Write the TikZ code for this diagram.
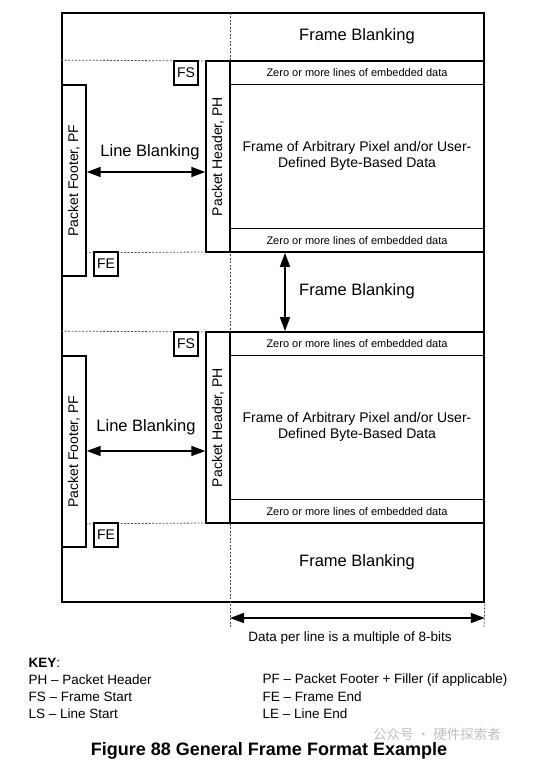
\documentclass[tikz,border=0pt]{standalone}
\usepackage{fontspec}
\setmainfont{Liberation Sans}
\newfontfamily\cjkfont{Noto Sans CJK SC}
\usetikzlibrary{arrows.meta}

\begin{document}
\begin{tikzpicture}[x=1pt, y=-1pt,
  box/.style={draw, fill=white, line width=1.4pt, inner sep=0pt, minimum width=24, minimum height=191},
  tag/.style={draw, fill=white, line width=1.4pt, inner sep=0pt, minimum size=24, font=\fontsize{14}{16}\selectfont},
  datablk/.style={draw, line width=1.8pt, inner sep=0pt, minimum width=254, minimum height=191},
  embrow/.style={inner sep=0pt, minimum width=254, minimum height=24, font=\fontsize{11}{13}\selectfont},
  blank/.style={font=\fontsize{16.5}{19}\selectfont},
  sidetxt/.style={rotate=90, font=\fontsize{14}{16}\selectfont},
  guide/.style={gray!60!black, dash pattern=on 2pt off 1.5pt, line width=0.8pt},
  dbl/.style={{Triangle[length=14pt,width=10pt]}-{Triangle[length=14pt,width=10pt]}, line width=1.6pt},
  txt/.style={font=\fontsize{13.5}{16}\selectfont}]

\useasboundingbox (0,0) rectangle (533,761);

% ===== Outer frame and guide lines =====
\node[draw, line width=1.6pt, inner sep=0pt, minimum width=422, minimum height=589] (frame) at (273,307.5) {};
\coordinate (gL) at (230,627);
\coordinate (gR) at (484,627);
\draw[guide] (gL) -- (gL |- frame.north);
\draw[guide] (gR) -- (frame.south east);

% Frame blanking rows
\node[blank] (fb0) at (357,36) {Frame Blanking};
\node[blank] (fb1) at (357,291) {Frame Blanking};
\node[blank] (fb2) at (357,562) {Frame Blanking};

% ===== Two frames, the second one 271 lower =====
\foreach \i/\dy/\lx/\ly/\ay in {1/0/150/152/172, 2/271/146/156/180} {
  \begin{scope}[shift={(0,\dy)}]
    % data block with embedded rows
    \node[datablk] (data\i) at (357,156.5) {};
    \node[embrow, anchor=north] (embT\i) at (data\i.north) {Zero or more lines of embedded data};
    \node[embrow, anchor=south] (embB\i) at (data\i.south) {Zero or more lines of embedded data};
    \draw[line width=1.8pt] (embT\i.south west) -- (embT\i.south east);
    \draw[line width=0.8pt] (embB\i.north west) -- (embB\i.north east);
    \node[align=center, font=\fontsize{14}{16.5}\selectfont] (pix\i) at (357,156)
      {Frame of Arbitrary Pixel and/or User-\\Defined Byte-Based Data};

    % line blanking guides
    \draw[guide] (frame.west |- data\i.north) -- (206,61);
    \draw[guide] (frame.west |- data\i.south) -- (206,252);

    % header, footer, FS and FE
    \node[box] (ph\i) at (218,156.5) {};
    \node[sidetxt] (phT\i) at (ph\i) {Packet Header, PH};
    \node[box] (pf\i) at (74,180.5) {};
    \node[sidetxt] (pfT\i) at (pf\i) {Packet Footer, PF};
    \node[tag] (fs\i) at (186,73) {FS};
    \node[tag] (fe\i) at (106,264) {FE};

    % line blanking
    \coordinate (lb\i) at (0,\ay);
    \draw[dbl] (pf\i.east |- lb\i) -- (ph\i.west |- lb\i);
    \node[blank] (lbT\i) at (\lx,\ly) {Line Blanking};
  \end{scope}
}

% Frame blanking arrow between the frames
\coordinate (mid) at (285,0);
\draw[dbl] (data1.south -| mid) -- (data2.north -| mid);

% ===== Data per line =====
\coordinate (dL) at (230,618);
\draw[dbl] (dL) -- (dL -| frame.east);
\node[txt] (dtxt) at (350,638) {Data per line is a multiple of 8-bits};

% ===== Key =====
\node[txt, anchor=west] (key) at (25,663) {\textbf{KEY}:};
\node[txt, anchor=west] (k1) at (25,680) {PH – Packet Header};
\node[txt, anchor=west] (k2) at (25,697) {FS – Frame Start};
\node[txt, anchor=west] (k3) at (25,714) {LS – Line Start};
\node[txt, anchor=west] (k4) at (259,680) {PF – Packet Footer + Filler (if applicable)};
\node[txt, anchor=west] (k5) at (259,697) {FE – Frame End};
\node[txt, anchor=west] (k6) at (259,714) {LE – Line End};

\node[text=gray!50, font=\cjkfont\fontsize{13.5}{15}\selectfont, anchor=west, inner sep=1pt] (wm) at (372,734) {公众号 · 硬件探索者};
\node[font=\bfseries\fontsize{18}{21}\selectfont] (cap) at (269,751) {Figure 88 General Frame Format Example};

\end{tikzpicture}
\end{document}
